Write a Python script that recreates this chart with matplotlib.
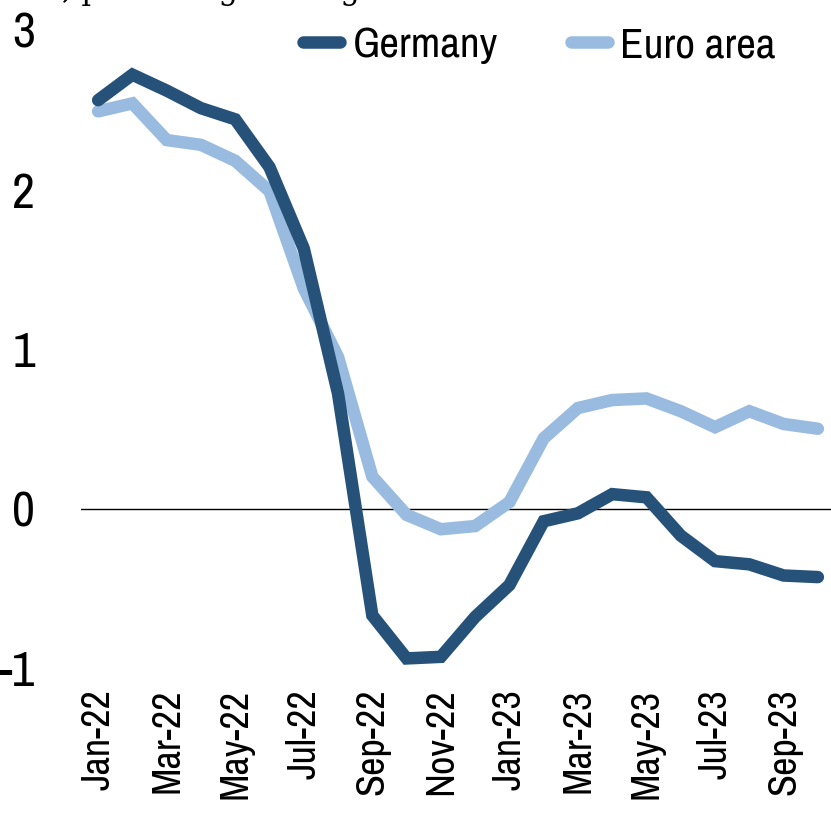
import numpy as np
from matplotlib import pyplot as plt
from matplotlib import font_manager

# Monthly data, Jan-22 .. Oct-23
months = ["Jan-22", "Feb-22", "Mar-22", "Apr-22", "May-22", "Jun-22", "Jul-22", "Aug-22",
          "Sep-22", "Oct-22", "Nov-22", "Dec-22", "Jan-23", "Feb-23", "Mar-23", "Apr-23",
          "May-23", "Jun-23", "Jul-23", "Aug-23", "Sep-23", "Oct-23"]
germany = [2.56, 2.72, 2.62, 2.51, 2.44, 2.14, 1.63, 0.72, -0.67, -0.94, -0.93, -0.68,
           -0.48, -0.08, -0.03, 0.09, 0.07, -0.17, -0.33, -0.35, -0.42, -0.43]
euro_area = [2.49, 2.54, 2.31, 2.28, 2.18, 1.99, 1.38, 0.95, 0.20, -0.04, -0.13, -0.11,
             0.04, 0.44, 0.63, 0.68, 0.69, 0.61, 0.51, 0.61, 0.53, 0.50]
yticks = [-1, 0, 1, 2, 3]

# look for a narrow / condensed font, fall back to DejaVu
narrow = sorted({f.name for f in font_manager.fontManager.ttflist
                 if "narrow" in f.name.lower() or "condensed" in f.name.lower()
                 or (f.stretch not in ("normal", 500) and "sans" in f.name.lower())})
fam = narrow[:1] + ["DejaVu Sans"]
plt.rcParams["font.family"] = fam
plt.rcParams["font.stretch"] = "condensed"

W, H = 831, 819
fig = plt.figure(figsize=(W / 100, H / 100), dpi=100)
ax = fig.add_axes([81 / W, 1 - 668 / H, (835 - 81) / W, (668 - 30) / H])

x = np.arange(len(months))
ax.plot(x, germany, color="#26527A", lw=9, solid_capstyle="round", solid_joinstyle="miter", label="Germany", zorder=3)
ax.plot(x, euro_area, color="#99BBE0", lw=9, solid_capstyle="round", solid_joinstyle="miter", label="Euro area", zorder=2)
ax.axhline(0, color="black", lw=1.0, zorder=1)

ax.set_xlim(-0.5, len(months) - 0.5)
ax.set_ylim(-1, 3)
ax.set_yticks(yticks)
ax.set_yticklabels([str(v) for v in yticks], fontsize=36)
ax.set_xticks(x[::2])
ax.set_xticklabels(months[::2], rotation=90, fontsize=29)
ax.tick_params(axis="y", length=0, pad=33)
ax.tick_params(axis="x", length=0, pad=15)
for s in ax.spines.values():
    s.set_visible(False)

fig.legend(handles=ax.get_lines()[:2], loc="upper left", bbox_to_anchor=(303 / W, 1 - 26 / H),
           ncol=2, frameon=False, borderpad=0, borderaxespad=0,
           fontsize=31, handlelength=0.85, handletextpad=0.3, columnspacing=1.7)

# subtitle sits above the crop, only its descenders show
fig.text(62 / W, 1 + 1 / H, ", percentage change", family="DejaVu Serif", fontstretch="normal",
         fontsize=22, va="baseline", ha="left")

fig.savefig("out.png", dpi=100)
